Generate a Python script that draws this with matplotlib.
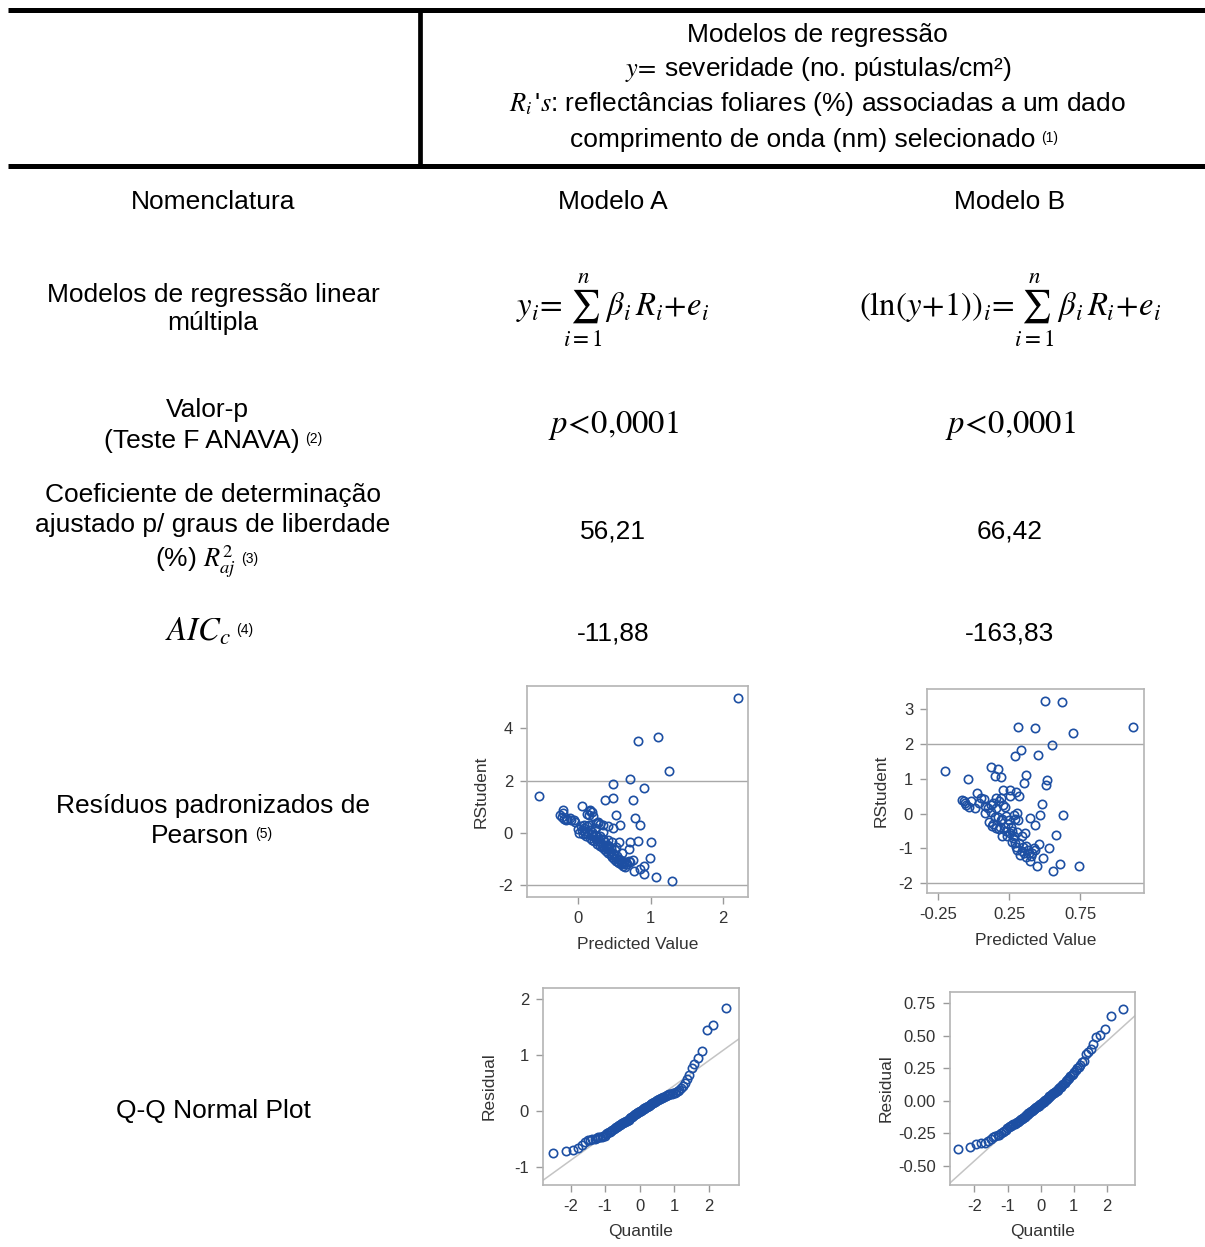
# -*- coding: utf-8 -*-
"""
Tabela de modelos de regressão com gráficos de resíduos (Modelo A e B)
"""

import matplotlib
matplotlib.use('Agg')
import matplotlib.pyplot as plt
import numpy as np
from statistics import NormalDist

plt.rcParams['font.family'] = ['Liberation Sans', 'DejaVu Sans']
plt.rcParams['mathtext.fontset'] = 'stix'
plt.rcParams['axes.unicode_minus'] = False

# ---------------- dados ----------------
modelos = ['Modelo A', 'Modelo B']
valor_p = ['$p\\!<\\!0{,}0001$', '$p\\!<\\!0{,}0001$']
r2_aj = ['56,21', '66,42']
aicc = ['-11,88', '-163,83']

# resíduos studentizados vs valor predito - Modelo A
pred_a = [2.20, 1.10, 0.83, 1.26, 0.71, 0.48, 0.91, -0.54, 0.48, 0.37, 0.76, 0.05,
          0.17, -0.20, 0.52, 0.79, 0.85, 0.58, 0.48, 0.41, 0.28, 0.21, 0.13,
          -0.24, -0.22, -0.17, -0.11, -0.06, -0.04, -0.21, -0.15, -0.09, -0.19,
          0.71, 0.83, 1.01, 0.70, 0.99, 0.91, 0.76, 0.77, 0.85, 0.91, 1.07, 1.30, 0.56, 0.47,
          0.00, 0.02, 0.04, 0.06, 0.07, 0.08, 0.09, 0.10, 0.11, 0.12, 0.13, 0.14, 0.15,
          0.16, 0.17, 0.18, 0.19, 0.20, 0.21, 0.22, 0.23, 0.24, 0.25, 0.26, 0.27, 0.28,
          0.29, 0.30, 0.31, 0.32, 0.33, 0.34, 0.35, 0.36, 0.37, 0.38, 0.39, 0.40, 0.41,
          0.42, 0.43, 0.44, 0.45, 0.46, 0.47, 0.48, 0.49, 0.50, 0.51, 0.52, 0.53, 0.54,
          0.55, 0.56, 0.57, 0.58, 0.59, 0.60, 0.61, 0.62, 0.63, 0.64, 0.65, 0.66, 0.68,
          0.70, 0.72, 0.25, 0.31, 0.34, 0.35, 0.42, 0.52, 0.60, 0.17, 0.19, 0.15]
rstud_a = [5.14, 3.68, 3.51, 2.38, 2.05, 1.89, 1.73, 1.41, 1.34, 1.25, 1.25, 1.03,
           0.89, 0.89, 0.70, 0.59, 0.32, 0.32, 0.18, 0.27, 0.42, 0.66, 0.73,
           0.67, 0.61, 0.48, 0.58, 0.48, 0.42, 0.76, 0.53, 0.50, 0.55,
           -0.33, -0.29, -0.33, -0.59, -0.97, -1.24, -1.04, -1.46, -1.38, -1.58, -1.67, -1.84, -0.33, -0.34,
           0.15, 0.00, 0.25, 0.10, -0.05, 0.30, 0.18, 0.02, -0.12, 0.25, 0.08, -0.05, 0.30,
           -0.18, 0.12, -0.02, -0.25, 0.05, -0.12, -0.32, -0.08, 0.20, -0.22, -0.40, -0.15, 0.38,
           -0.30, -0.48, -0.10, -0.38, -0.55, -0.22, -0.45, -0.62, -0.35, -0.52, -0.70, -0.45, -0.60,
           -0.78, -0.50, -0.68, -0.85, -0.58, -0.92, -0.75, -1.00, -0.82, -0.65, -0.95, -1.05, -0.88,
           -1.10, -0.98, -1.15, -1.02, -1.20, -1.08, -1.15, -1.25, -1.10, -1.18, -1.30, -1.12, -1.20,
           -1.05, -1.12, 0.40, 0.35, 0.30, 0.05, -0.25, -0.55, -0.75, 0.85, 0.80, 0.70]

# resíduos studentizados vs valor predito - Modelo B
pred_b = [0.503, 0.62, 0.31, 0.435, 0.698, 1.124, 0.55, 0.336, 0.289, 0.454, -0.20, 0.122,
          0.174, -0.04, 0.15, 0.19, 0.37, 0.52, 0.51, 0.355, 0.209, 0.254, 0.30, 0.256,
          0.32, 0.484, 0.63, 0.466, 0.397, 0.432, 0.58, 0.53, 0.61, 0.745, 0.56, 0.447,
          0.49, 0.46, 0.43,
          -0.07, -0.06, -0.02, 0.025, -0.03, 0.01, 0.07, 0.08, 0.12, 0.155, 0.14, 0.18,
          0.21, 0.077, -0.08, -0.05, 0.04, 0.10, 0.16, 0.19, 0.22, 0.05,
          0.11, 0.13, 0.14, 0.155, 0.17, 0.185, 0.20, 0.225, 0.25, 0.26, 0.268, 0.20,
          0.237, 0.284, 0.308, 0.343, 0.36, 0.29, 0.308, 0.343, 0.37, 0.39, 0.406, 0.366,
          0.355, 0.395, 0.425, 0.33, 0.296, 0.27, 0.254, 0.289, 0.303, 0.284, 0.315, 0.18,
          0.22, 0.24, 0.28, 0.32, 0.35, 0.38, 0.41, 0.23, 0.19, 0.15, 0.12]
rstud_b = [3.25, 3.21, 2.50, 2.46, 2.31, 2.50, 1.98, 1.82, 1.66, 1.70, 1.24, 1.35,
           1.27, 0.99, 1.07, 1.04, 1.11, 0.96, 0.83, 0.875, 0.68, 0.68, 0.63, 0.52,
           0.52, 0.28, -0.04, -0.04, -0.13, -0.32, -0.63, -1.00, -1.46, -1.50, -1.66, -1.51,
           -1.27, -0.875, -1.05,
           0.37, 0.30, 0.35, 0.59, 0.20, 0.17, 0.42, 0.22, 0.25, 0.44, 0.30, 0.35,
           0.25, 0.01, 0.40, 0.25, 0.30, 0.15, 0.15, 0.45, 0.20, 0.45,
           -0.23, -0.35, -0.30, -0.42, -0.09, -0.375, -0.16, -0.07, -0.18, -0.375, -0.49, -0.66,
           -0.66, -0.66, -0.52, -0.66, -0.55, -0.84, -1.05, -1.07, -0.93, -1.14, -1.21, -1.24,
           -1.14, -1.37, -1.00, -1.20, -0.95, -0.81, -0.57, -0.16, 0.01, -0.04, -0.18, -0.45,
           -0.40, -0.30, -0.70, -0.85, -0.95, -1.05, -1.15, -0.50, -0.20, -0.10, 0.05]

# resíduos ordenados para o gráfico Q-Q normal
resid_qq_a = [-0.76, -0.73, -0.70, -0.66, -0.61, -0.56, -0.53, -0.52, -0.51, -0.50,
              -0.49, -0.48, -0.47, -0.47, -0.46, -0.45, -0.42, -0.40, -0.39, -0.38,
              -0.36, -0.35, -0.33, -0.31, -0.30, -0.29, -0.27, -0.26, -0.25, -0.24,
              -0.23, -0.22, -0.21, -0.20, -0.19, -0.18, -0.17, -0.16, -0.14, -0.13,
              -0.12, -0.11, -0.10, -0.08, -0.07, -0.06, -0.05, -0.04, -0.03, -0.02,
              -0.01, 0.00, 0.01, 0.02, 0.03, 0.04, 0.05, 0.06, 0.07, 0.08,
              0.09, 0.10, 0.11, 0.12, 0.13, 0.14, 0.15, 0.16, 0.17, 0.18,
              0.19, 0.20, 0.21, 0.22, 0.23, 0.24, 0.25, 0.26, 0.27, 0.28,
              0.29, 0.29, 0.30, 0.31, 0.32, 0.33, 0.35, 0.37, 0.40, 0.44,
              0.50, 0.56, 0.63, 0.76, 0.83, 0.94, 1.07, 1.44, 1.52, 1.83]
resid_qq_b = [-0.37, -0.35, -0.33, -0.325, -0.32, -0.305, -0.29, -0.28, -0.27, -0.265,
              -0.26, -0.25, -0.24, -0.23, -0.22, -0.21, -0.20, -0.195, -0.19, -0.185,
              -0.18, -0.175, -0.17, -0.165, -0.16, -0.155, -0.15, -0.14, -0.135, -0.13,
              -0.125, -0.12, -0.11, -0.105, -0.10, -0.095, -0.09, -0.085, -0.08, -0.075,
              -0.07, -0.065, -0.06, -0.055, -0.05, -0.045, -0.04, -0.035, -0.03, -0.025,
              -0.02, -0.015, -0.01, -0.005, 0.00, 0.005, 0.01, 0.015, 0.02, 0.03,
              0.035, 0.04, 0.045, 0.05, 0.06, 0.065, 0.07, 0.075, 0.08, 0.085,
              0.09, 0.10, 0.105, 0.11, 0.12, 0.13, 0.14, 0.15, 0.16, 0.17,
              0.18, 0.19, 0.20, 0.21, 0.22, 0.235, 0.25, 0.26, 0.28, 0.30,
              0.31, 0.36, 0.38, 0.40, 0.44, 0.49, 0.51, 0.55, 0.65, 0.71]
# reta de referência (intercepto, inclinação)
qq_line_a = (0.0, 0.445)
qq_line_b = (0.0, 0.230)

# ---------------- estilo ----------------
AZUL = '#1d4fa3'
CINZA_EIXO = '#b4b4b4'
CINZA_TXT = '#333333'
FS = 19
FS_NOTA = 10
FS_MAT = 23.5

fig = plt.figure(figsize=(12.05, 12.47), dpi=100)
bg = fig.add_axes([0, 0, 1, 1])
bg.set_xlim(0, 1205)
bg.set_ylim(1247, 0)
bg.axis('off')

# linhas da tabela
bg.plot([8, 1205], [9.5, 9.5], color='black', lw=3.6, solid_capstyle='butt')
bg.plot([8, 1205], [165.5, 165.5], color='black', lw=3.6, solid_capstyle='butt')
bg.plot([419.5, 419.5], [9.5, 165.5], color='black', lw=3.4, solid_capstyle='butt')


def nota(txt, num, dx=4, dy=2):
    # sobrescrito pequeno à direita de um texto
    bg.annotate(num, xy=(1, 1), xycoords=txt, xytext=(dx, -dy),
                textcoords='offset points', ha='left', va='top', fontsize=FS_NOTA)


# cabeçalho
bg.text(817, 35, 'Modelos de regressão', ha='center', va='center', fontsize=FS)
bg.text(818, 70, '$y\\!=\\!$ severidade (no. pústulas/cm²)', ha='center', va='center', fontsize=FS)
bg.text(817, 104, "$R_i\\,$'$s$: reflectâncias foliares (%) associadas a um dado",
        ha='center', va='center', fontsize=FS)
t = bg.text(803, 140, 'comprimento de onda (nm) selecionado', ha='center', va='center', fontsize=FS)
nota(t, '(1)')

# coluna de nomenclatura
bg.text(213, 202, 'Nomenclatura', ha='center', va='center', fontsize=FS)
bg.text(213, 309, 'Modelos de regressão linear\nmúltipla', ha='center', va='center',
        fontsize=FS, linespacing=1.25)
bg.text(207, 410, 'Valor-p', ha='center', va='center', fontsize=FS)
t = bg.text(202, 441, '(Teste F ANAVA)', ha='center', va='center', fontsize=FS)
nota(t, '(2)')
bg.text(213, 495, 'Coeficiente de determinação', ha='center', va='center', fontsize=FS)
bg.text(213, 525, 'ajustado p/ graus de liberdade', ha='center', va='center', fontsize=FS)
t = bg.text(195, 562, '(%) $R^2_{aj}$', ha='center', va='center', fontsize=FS)
nota(t, '(3)', dy=6)
t = bg.text(198, 632, '$AIC_c$', ha='center', va='center', fontsize=FS_MAT)
nota(t, '(4)', dy=5)
bg.text(213, 806, 'Resíduos padronizados de', ha='center', va='center', fontsize=FS)
t = bg.text(200, 836, 'Pearson', ha='center', va='center', fontsize=FS)
nota(t, '(5)')
bg.text(213, 1111, 'Q-Q Normal Plot', ha='center', va='center', fontsize=FS)

# colunas dos modelos
xcol = [613, 1010]
formulas = ['$y_i\\!=\\!\\sum_{i=1}^{n}\\,\\beta_i\\,R_i\\!+\\!e_i$',
            '$\\left(\\mathrm{ln}\\left(y\\!+\\!1\\right)\\right)_i\\!=\\!\\sum_{i=1}^{n}\\,\\beta_i\\,R_i\\!+\\!e_i$']
for k in range(2):
    bg.text(xcol[k], 202, modelos[k], ha='center', va='center', fontsize=FS)
    bg.text(xcol[k], 310, formulas[k], ha='center', va='center', fontsize=FS_MAT)
    bg.text(xcol[k], 425, valor_p[k], ha='center', va='center', fontsize=FS_MAT)
    bg.text(xcol[k], 532, r2_aj[k], ha='center', va='center', fontsize=FS)
    bg.text(xcol[k], 634, aicc[k], ha='center', va='center', fontsize=FS)


def painel(px0, py0, px1, py1):
    # eixos a partir de posições em pixels
    W, H = 1205.0, 1247.0
    ax = fig.add_axes([px0 / W, (H - py1) / H, (px1 - px0) / W, (py1 - py0) / H])
    for s in ['top', 'right', 'left', 'bottom']:
        ax.spines[s].set_color(CINZA_EIXO)
        ax.spines[s].set_linewidth(1.2)
    ax.tick_params(direction='out', length=5, width=1, color='#9a9a9a',
                   labelsize=12, labelcolor=CINZA_TXT, pad=5)
    return ax


def rotulos(ax, xl, yl, xpad=9, ypad=9):
    ax.set_xlabel(xl, fontsize=12.5, color=CINZA_TXT, labelpad=xpad)
    ax.set_ylabel(yl, fontsize=12.5, color=CINZA_TXT, labelpad=ypad)


# RStudent x Predicted - A
ax = painel(527, 686, 748, 897)
ax.axhline(2, color='#a8a8a8', lw=1)
ax.axhline(-2, color='#a8a8a8', lw=1)
ax.plot(pred_a, rstud_a, 'o', mfc='none', mec=AZUL, ms=6, mew=1.2)
ax.set_xlim(-0.70, 2.34)
ax.set_ylim(-2.44, 5.61)
ax.set_xticks([0, 1, 2])
ax.set_yticks([-2, 0, 2, 4])
rotulos(ax, 'Predicted Value', 'RStudent', xpad=8, ypad=7)

# RStudent x Predicted - B
ax = painel(927, 689, 1144, 893)
ax.axhline(2, color='#a8a8a8', lw=1)
ax.axhline(-2, color='#a8a8a8', lw=1)
ax.plot(pred_b, rstud_b, 'o', mfc='none', mec=AZUL, ms=6, mew=1.2)
ax.set_xlim(-0.328, 1.20)
ax.set_ylim(-2.29, 3.59)
ax.set_xticks([-0.25, 0.25, 0.75])
ax.set_xticklabels(['-0.25', '0.25', '0.75'])
ax.set_yticks([-2, -1, 0, 1, 2, 3])
rotulos(ax, 'Predicted Value', 'RStudent', xpad=8, ypad=7)

# Q-Q
nd = NormalDist()
for resid, linha, caixa, lims, yt, ytl, ypad in [
        (resid_qq_a, qq_line_a, (543, 988, 739, 1185), ((-2.80, 2.88), (-1.33, 2.19)),
         [-1, 0, 1, 2], ['-1', '0', '1', '2'], 13),
        (resid_qq_b, qq_line_b, (950, 992, 1135, 1185), ((-2.74, 2.85), (-0.646, 0.838)),
         [-0.5, -0.25, 0, 0.25, 0.5, 0.75], ['-0.50', '-0.25', '0.00', '0.25', '0.50', '0.75'], 3)]:
    n = len(resid)
    quant = [nd.inv_cdf((i + 1 - 0.375) / (n + 0.25)) for i in range(n)]
    ax = painel(*caixa)
    ax.axline((0, linha[0]), slope=linha[1], color='#c4c4c4', lw=1.1)
    ax.plot(quant, sorted(resid), 'o', mfc='none', mec=AZUL, ms=6, mew=1.2)
    ax.set_xlim(*lims[0])
    ax.set_ylim(*lims[1])
    ax.set_xticks([-2, -1, 0, 1, 2])
    ax.set_yticks(yt)
    ax.set_yticklabels(ytl)
    rotulos(ax, 'Quantile', 'Residual', xpad=7, ypad=ypad)

plt.savefig('out.png', dpi=100)
